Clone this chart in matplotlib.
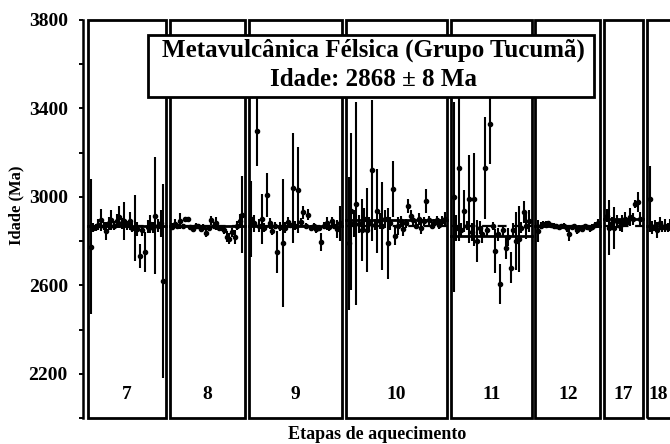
import matplotlib
matplotlib.use('Agg')
import matplotlib.pyplot as plt
from matplotlib.patches import Rectangle

# fonte serifada em negrito, como na figura escaneada
plt.rcParams['font.family'] = ['Liberation Serif', 'DejaVu Serif']
plt.rcParams['font.weight'] = 'bold'

# dados: idade (Ma) e erro de cada bloco, por etapa de aquecimento
etapas = ['7', '8', '9', '10', '11', '12', '17', '18']

idades_7 = [2775, 2860, 2862, 2875, 2895, 2868, 2846, 2880, 2895, 2870, 2891, 2910, 2880, 2890, 2872,
            2891, 2860, 2860, 2855, 2733, 2850, 2750, 2865, 2878, 2860, 2915, 2870, 2880, 2620]
erros_7 = [305, 20, 15, 25, 50, 20, 40, 30, 45, 20, 30, 50, 25, 85, 20,
           40, 20, 150, 30, 55, 25, 90, 30, 40, 25, 265, 30, 60, 440]

idades_8 = [2865, 2878, 2870, 2891, 2868, 2900, 2900, 2862, 2855, 2870, 2868, 2855, 2865, 2837,
            2860, 2895, 2870, 2880, 2858, 2860, 2850, 2819, 2810, 2840, 2819, 2870, 2891, 2920]
erros_8 = [15, 20, 12, 35, 10, 10, 10, 12, 15, 10, 10, 15, 12, 20,
           12, 20, 15, 30, 12, 15, 20, 25, 25, 20, 30, 20, 30, 175]

idades_9 = [2900, 2880, 3300, 2870, 2900, 2860, 3010, 2880, 2846, 2870, 2750, 2865, 2790, 2860,
            2887, 2875, 3040, 2870, 3030, 2885, 2930, 2868, 2920, 2860, 2868, 2855, 2860, 2797,
            2870, 2880, 2862, 2890, 2870, 2855, 2880]
erros_9 = [170, 40, 160, 30, 115, 20, 100, 25, 20, 15, 95, 20, 290, 25,
           20, 15, 250, 20, 195, 20, 30, 15, 25, 15, 15, 20, 15, 40,
           15, 30, 15, 20, 15, 40, 80]

idades_10 = [2790, 2935, 2880, 2970, 2878, 2850, 2900, 2850, 2880, 3120, 2875, 2937, 2890, 2868,
             2900, 2790, 2880, 3035, 2824, 2868, 2890, 2855, 2880, 2959, 2914, 2895, 2870, 2900,
             2860, 2890, 2982, 2895, 2870, 2880, 2895, 2875, 2890, 2900]
erros_10 = [300, 355, 60, 460, 40, 140, 50, 190, 30, 320, 25, 190, 35, 200,
            40, 160, 30, 125, 40, 40, 25, 30, 20, 30, 25, 20, 15, 25,
            30, 20, 55, 20, 15, 20, 20, 20, 25, 30]

idades_11 = [3000, 2860, 3130, 2850, 2935, 2870, 2990, 2840, 2990, 2800, 2860, 2830, 3130, 2850,
             3330, 2868, 2755, 2830, 2607, 2850, 2770, 2820, 2680, 2850, 2800, 2810, 2860, 2930,
             2870, 2890]
erros_11 = [430, 60, 330, 30, 95, 20, 200, 40, 210, 95, 30, 40, 230, 25,
            180, 20, 100, 30, 90, 25, 50, 40, 70, 30, 130, 150, 25, 50,
            60, 50]

idades_12 = [2845, 2870, 2878, 2875, 2880, 2872, 2870, 2868, 2862, 2866, 2870, 2858, 2830, 2862,
             2868, 2850, 2860, 2855, 2866, 2862, 2858, 2865, 2872, 2880]
erros_12 = [50, 15, 12, 15, 12, 10, 12, 10, 12, 10, 12, 15, 30, 12,
            10, 20, 12, 15, 10, 12, 15, 12, 15, 20]

idades_17 = [2915, 2860, 2880, 2860, 2890, 2870, 2880, 2900, 2885, 2910, 2900, 2968, 2977, 2900]
erros_17 = [30, 125, 30, 95, 30, 25, 40, 30, 20, 40, 25, 20, 45, 30]

idades_18 = [2990, 2860, 2870, 2850, 2880, 2865, 2870, 2860, 2875, 2868, 2860, 2870]
erros_18 = [150, 30, 25, 35, 30, 25, 30, 20, 25, 20, 20, 20]

media_etapa = [2866, 2866, 2868, 2896, 2824, 2866, 2900, 2870]
idade_media = 2868

idades = [idades_7, idades_8, idades_9, idades_10, idades_11, idades_12, idades_17, idades_18]
erros = [erros_7, erros_8, erros_9, erros_10, erros_11, erros_12, erros_17, erros_18]

fig = plt.figure(figsize=(6.7, 4.44), dpi=100)
ax = fig.add_axes([0.124, 0.0586, 0.876, 0.8964])

y_min, y_max = 2000, 3800
espaco = 1.5

# posições das caixas (uma por etapa), a partir do número de blocos
inicios = []
inicio = 0
for ids in idades:
    inicios.append(inicio)
    inicio += len(ids) + 1 + espaco
x_dir = inicios[-1] + 8.9  # a figura original corta a última caixa

for etapa, ids, ers, med, ini in zip(etapas, idades, erros, media_etapa, inicios):
    n = len(ids)
    x = [ini + i + 1 for i in range(n)]
    largura = n + 1
    ax.add_patch(Rectangle((ini, y_min), largura, y_max - y_min, fill=False,
                           lw=2.0, edgecolor='black', clip_on=False, zorder=3))
    ax.errorbar(x, ids, yerr=ers, fmt='o', ms=3, color='black', ecolor='black',
                elinewidth=1.5, capsize=0, zorder=2)
    ax.plot([ini, ini + largura], [med, med], color='black', lw=2.0, zorder=2)
    ax.plot([ini, ini + largura], [idade_media, idade_media], color='black',
            lw=1.6, ls=(0, (4, 3)), zorder=2)
    # rótulo no centro da parte visível da caixa
    x_rot = (ini + min(ini + largura, x_dir)) / 2
    ax.text(x_rot, 2105, etapa, ha='center', va='center', fontsize=14)

ax.set_xlim(-1.9, x_dir)
ax.set_ylim(y_min, y_max)

ax.set_yticks(range(2200, 3801, 400))
ax.set_yticks(range(2000, 3801, 400), minor=True)
ax.tick_params(axis='y', which='both', direction='out', length=3, width=1.4, pad=8, labelsize=14)
ax.set_xticks([])
for lado in ['top', 'right', 'bottom']:
    ax.spines[lado].set_visible(False)
ax.spines['left'].set_linewidth(1.8)

fig.text(0.025, 0.538, 'Idade (Ma)', rotation=90, ha='center', va='center', fontsize=12)
fig.text(0.563, 0.022, 'Etapas de aquecimento', ha='center', va='center', fontsize=13)

# caixa do título
fig.patches.append(Rectangle((0.221, 0.7815), 0.666, 0.14, transform=fig.transFigure,
                             facecolor='white', edgecolor='black', lw=2.0, zorder=5))
fig.text(0.557, 0.887, 'Metavulcânica Félsica (Grupo Tucumã)', ha='center', va='center',
         fontsize=18, zorder=6)
fig.text(0.557, 0.82, 'Idade: 2868 ± 8 Ma', ha='center', va='center', fontsize=18, zorder=6)

fig.savefig('out.png', dpi=100)
